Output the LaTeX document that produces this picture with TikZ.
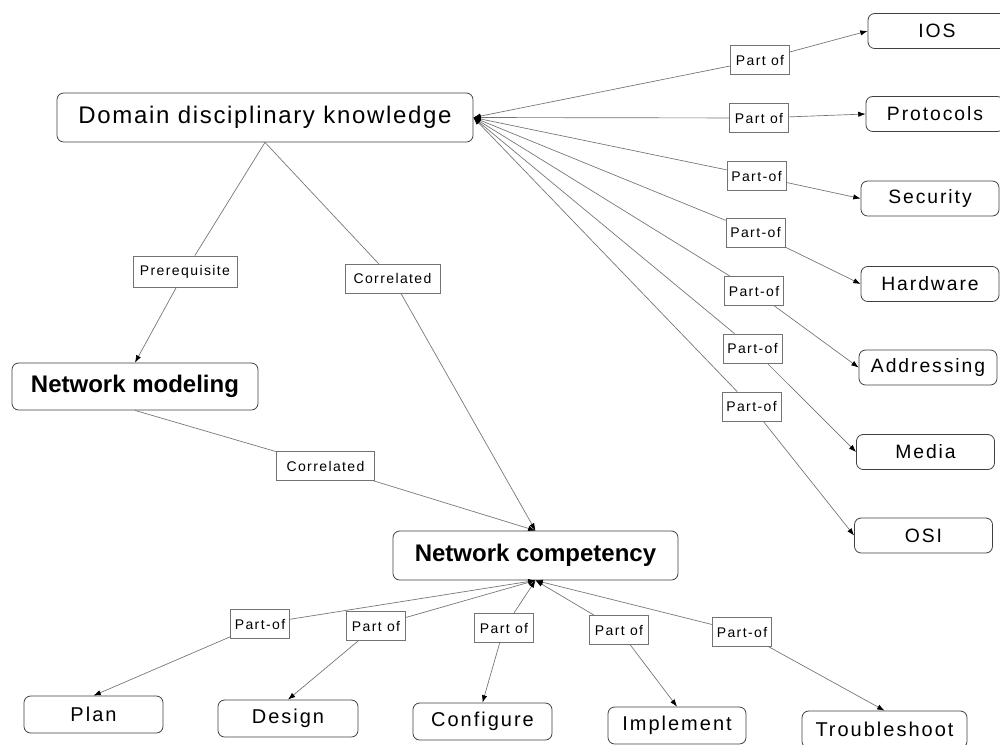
\documentclass[tikz,border=0pt]{standalone}
\usepackage{fontspec}
\setmainfont{Liberation Sans}
\newfontfamily\conceptfont[LetterSpace=7]{Liberation Sans}
\newfontfamily\leaffont[LetterSpace=10]{Liberation Sans}
\newfontfamily\linkfont[LetterSpace=10]{Liberation Sans}
\usetikzlibrary{arrows.meta}

\tikzset{
  concept/.style={draw=black!75, line width=0.6pt, rounded corners=5pt,
    fill=white, inner sep=0pt, align=center},
  bigconcept/.style={concept, minimum height=36.75pt},
  leaf/.style={concept, minimum width=103.5pt, minimum height=26.25pt,
    font=\leaffont\fontsize{14.5}{16}\selectfont},
  lowleaf/.style={concept, minimum height=27.75pt,
    font=\leaffont\fontsize{15}{17}\selectfont},
  linkbox/.style={draw=black!55, line width=0.5pt, fill=white,
    inner sep=2pt, minimum width=44.25pt, minimum height=21.75pt,
    font=\linkfont\fontsize{10.5}{12}\selectfont},
  edge/.style={draw=black!55, line width=0.5pt},
  tip/.tip={Latex[length=5.5pt,width=4pt,color=black]},
  into/.style={edge, -tip},
  from/.style={edge, tip-},
}

\begin{document}
\begin{tikzpicture}[x=0.75pt, y=-0.75pt]
  \useasboundingbox (0,0) rectangle (1000,744);
  \fill[white] (0,0) rectangle (1000,744);

  % main concepts
  \node[bigconcept, minimum width=312pt, font=\conceptfont\fontsize{18}{20}\selectfont]
    (dk) at (265,117.5) {Domain disciplinary knowledge};
  \node[bigconcept, minimum width=184.5pt, minimum height=35.25pt,
    font=\bfseries\fontsize{18}{20}\selectfont]
    (nm) at (135,386.5) {Network modeling};
  \node[bigconcept, minimum width=213.75pt, font=\bfseries\fontsize{18}{20}\selectfont]
    (nc) at (535.5,555.5) {Network competency};

  % components of domain knowledge
  \node[leaf] (ios) at (937,31)      {IOS};
  \node[leaf] (pro) at (935,114)     {Protocols};
  \node[leaf] (sec) at (930,198.5)   {Security};
  \node[leaf] (hw)  at (930,284)     {Hardware};
  \node[leaf] (ad)  at (928,367.5)   {Addressing};
  \node[leaf] (me)  at (925.5,452)   {Media};
  \node[leaf] (os)  at (923.5,535.5) {OSI};

  % components of competency
  \node[lowleaf, minimum width=104.25pt] (plan)    at (93.5,714.5)  {Plan};
  \node[lowleaf, minimum width=105pt]    (design)  at (288,718.5)   {Design};
  \node[lowleaf, minimum width=104.25pt] (config)  at (482.5,721.5) {Configure};
  \node[lowleaf, minimum width=103.5pt]  (impl)    at (677,725.5)   {Implement};
  \node[lowleaf, minimum width=123.75pt] (trouble) at (884.5,729.5) {Troubleshoot};

  % linking phrases
  \node[linkbox, minimum width=78pt, minimum height=23.25pt] (pre)  at (185,271.5) {Prerequisite};
  \node[linkbox, minimum width=71.25pt] (cora) at (392.5,278.5) {Correlated};
  \node[linkbox, minimum width=73.5pt]  (corb) at (325.5,466)   {Correlated};

  \node[linkbox] (r1) at (760,60)    {Part of};
  \node[linkbox] (r2) at (759,118)   {Part of};
  \node[linkbox] (r3) at (756.5,176) {Part-of};
  \node[linkbox] (r4) at (755.5,232.5) {Part-of};
  \node[linkbox] (r5) at (754,291)   {Part-of};
  \node[linkbox] (r6) at (752.5,348.5) {Part-of};
  \node[linkbox] (r7) at (751.5,406.5) {Part-of};

  \node[linkbox] (b1) at (260,624) {Part-of};
  \node[linkbox] (b2) at (376,626) {Part of};
  \node[linkbox] (b3) at (504,628) {Part of};
  \node[linkbox] (b4) at (619,630) {Part of};
  \node[linkbox] (b5) at (742,632) {Part-of};

  % domain knowledge to its components
  \foreach \l/\c in {r1/ios, r2/pro, r3/sec, r4/hw, r5/ad, r6/me, r7/os} {
    \draw[from] (dk.east) -- (\l);
    \draw[into] (\l) -- (\c.west);
  }

  % competency to its components
  \foreach \l/\c in {b1/plan, b2/design, b3/config, b4/impl, b5/trouble} {
    \draw[from] (nc.south) -- (\l);
    \draw[into] (\l) -- (\c.north);
  }

  % relations among the main concepts
  \draw[edge] (dk.south) -- (pre);
  \draw[into] (pre) -- (nm.north);
  \draw[edge] (dk.south) -- (cora);
  \draw[into] (cora) -- (nc.north);
  \draw[edge] (nm.south) -- (corb);
  \draw[into] (corb) -- (nc.north);
\end{tikzpicture}
\end{document}
